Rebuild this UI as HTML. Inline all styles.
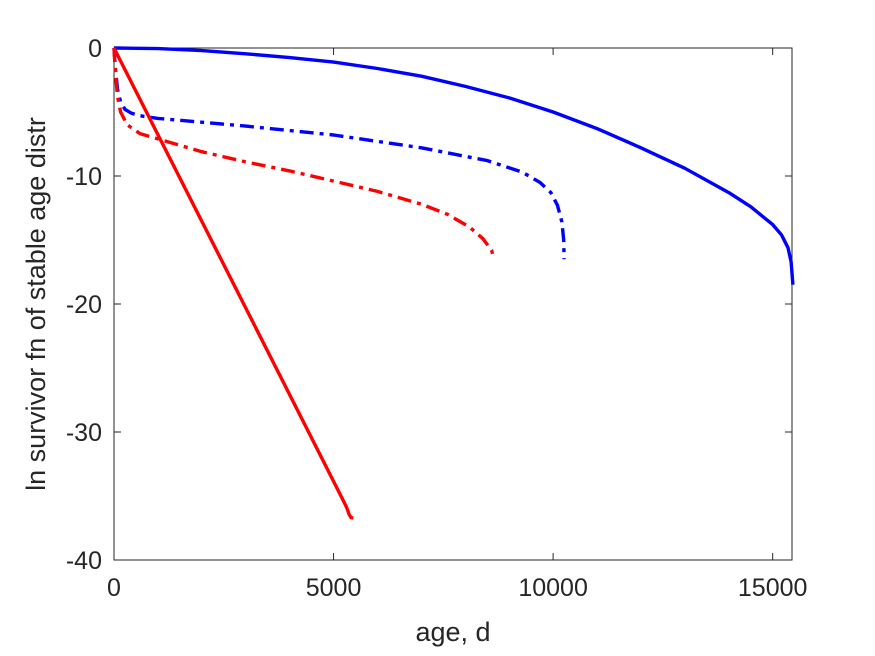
<!DOCTYPE html>
<html><head><meta charset="utf-8"><style>
html,body{margin:0;padding:0;background:#fff;}
svg{display:block;font-family:"Liberation Sans",sans-serif;}
</style></head><body>
<svg id="chart" width="875" height="656"></svg>
<script>
const xTicks=[0,5000,10000,15000];
const yTicks=[0,-10,-20,-30,-40];
const blueSolidX=[0,1000,2000,3000,4000,5000,6000,7000,8000,9000,10000,11000,12000,13000,14000,14500,15000,15200,15350,15420,15460];
const blueSolidY=[0,-0.05,-0.2,-0.45,-0.75,-1.1,-1.6,-2.2,-3.0,-3.9,-5.0,-6.3,-7.8,-9.4,-11.3,-12.4,-13.8,-14.6,-15.6,-16.7,-18.5];
const blueDashX=[0,30,80,150,250,400,600,1000,2000,3000,5000,7000,8500,9300,9700,9950,10100,10200,10240,10250];
const blueDashY=[0,-1.5,-3.2,-4.2,-4.8,-5.1,-5.3,-5.5,-5.8,-6.1,-6.8,-7.8,-8.8,-9.7,-10.5,-11.3,-12.3,-13.6,-15,-16.5];
const redDashX=[0,30,80,150,300,600,1000,2000,3000,4000,5000,6000,7000,7600,8100,8400,8600,8650];
const redDashY=[0,-1.8,-3.8,-5.0,-6.0,-6.7,-7.1,-8.1,-8.9,-9.6,-10.4,-11.2,-12.2,-13.0,-14.0,-14.9,-15.8,-16.5];
const redSolidX=[0,5200,5300,5350,5400,5450];
const redSolidY=[0,-35.2,-35.9,-36.4,-36.7,-36.7];

const L=114,R=792,T=48,B=560,XMAX=15440,YMIN=-40,YMAX=0;
const sx=v=>L+(v/XMAX)*(R-L);
const sy=v=>T+(YMAX-v)/(YMAX-YMIN)*(B-T);
const svg=document.getElementById('chart');
const NS='http://www.w3.org/2000/svg';
function mk(tag,attrs){const e=document.createElementNS(NS,tag);for(const k in attrs)e.setAttribute(k,attrs[k]);svg.appendChild(e);return e;}

const box=mk('rect',{x:L,y:T,width:R-L,height:B-T,fill:'none',stroke:'#262626','stroke-width':1});



xTicks.forEach(v=>{
  const x=sx(v);
  const t1=mk('line',{x1:x,x2:x,y1:B,y2:B-7,stroke:'#262626'});
  
  
  const t2=mk('line',{x1:x,x2:x,y1:T,y2:T+7,stroke:'#262626'});
  
  
  const lb=mk('text',{x:x,y:B+36,'text-anchor':'middle','font-size':25,fill:'#262626'});
  lb.textContent=v;
  
  
});
yTicks.forEach(v=>{
  const y=sy(v);
  const t1=mk('line',{x1:L,x2:L+7,y1:y,y2:y,stroke:'#262626'});
  
  
  const t2=mk('line',{x1:R,x2:R-7,y1:y,y2:y,stroke:'#262626'});
  
  
  const lb=mk('text',{x:L-12,y:y+9,'text-anchor':'end','font-size':25,fill:'#262626'});
  lb.textContent=v;
  
  
});
const xt=mk('text',{x:(L+R)/2,y:641,'text-anchor':'middle','font-size':27,fill:'#262626'});
xt.textContent='age, d';


const yt=mk('text',{x:0,y:0,'text-anchor':'middle','font-size':27,fill:'#262626',transform:'translate(45,'+((T+B)/2)+') rotate(-90)'});
yt.textContent='ln survivor fn of stable age distr';



function series(xs,ys,color,dash,name){
  const d=xs.map((x,i)=>(i?'L':'M')+sx(x).toFixed(1)+','+sy(ys[i]).toFixed(1)).join(' ');
  const p=mk('path',{d:d,fill:'none',stroke:color,'stroke-width':3.4,'stroke-linejoin':'round'});
  if(dash)p.setAttribute('stroke-dasharray',dash);
  
  
}
series(blueSolidX,blueSolidY,'#0000ff',null,'blue-solid-line');
series(blueDashX,blueDashY,'#0000ff','14,6,4,6','blue-dashdot-line');
series(redDashX,redDashY,'#ff0000','14,6,4,6','red-dashdot-line');
series(redSolidX,redSolidY,'#ff0000',null,'red-solid-line');
</script>
</body></html>
